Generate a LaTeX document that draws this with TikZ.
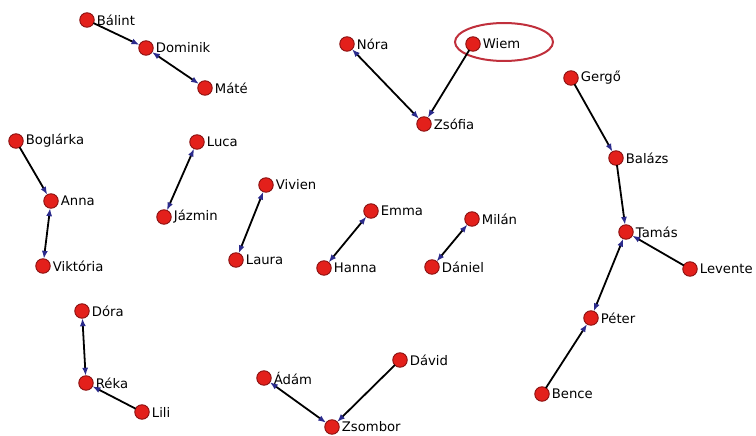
\documentclass[tikz,border=0pt]{standalone}
\usepackage{fontspec}
\setmainfont{DejaVu Sans}
\usetikzlibrary{arrows.meta,shapes.geometric}
\definecolor{nodered}{HTML}{E3201B}
\definecolor{noderim}{HTML}{8A1010}
\definecolor{tipblue}{HTML}{2B2B8C}
\definecolor{ringred}{HTML}{C0303C}
\tikzset{
  person/.style={circle,fill=nodered,draw=noderim,line width=0.9pt,minimum size=14.5pt,inner sep=0pt,
    label={[font=\fontsize{13.2}{15}\selectfont,anchor=west,inner sep=0pt,xshift=2pt]east:#1}},
  tip/.style={-{Latex[color=tipblue,length=8pt,width=6pt]}},
  both/.style={{Latex[color=tipblue,length=8pt,width=6pt]}-{Latex[color=tipblue,length=8pt,width=6pt]}},
  link/.style={line width=1.8pt,black,shorten >=-0.5pt,shorten <=-0.5pt}
}
\begin{document}
\begin{tikzpicture}[x=1pt,y=-1pt]
\useasboundingbox (0,0) rectangle (756,436);
\node[person=Bálint] (balint) at (87,20) {};
\node[person=Dominik] (dominik) at (146,48) {};
\node[person=Máté] (mate) at (205,88) {};
\node[person=Nóra] (nora) at (347,44) {};
\node[person=Wiem] (wiem) at (473,44) {};
\node[person=Zsófia] (zsofia) at (424,124) {};
\node[person=Gergő] (gergo) at (571,78) {};
\node[person=Balázs] (balazs) at (616,158) {};
\node[person=Tamás] (tamas) at (626,232) {};
\node[person=Levente] (levente) at (690,269) {};
\node[person=Péter] (peter) at (591,318) {};
\node[person=Bence] (bence) at (542,394) {};
\node[person=Boglárka] (boglarka) at (16,141) {};
\node[person=Anna] (anna) at (51,201) {};
\node[person=Viktória] (viktoria) at (43,266) {};
\node[person=Luca] (luca) at (197,142) {};
\node[person=Jázmin] (jazmin) at (164,217) {};
\node[person=Vivien] (vivien) at (266,185) {};
\node[person=Laura] (laura) at (236,260) {};
\node[person=Emma] (emma) at (371,211) {};
\node[person=Hanna] (hanna) at (324,268) {};
\node[person=Milán] (milan) at (472,219) {};
\node[person=Dániel] (daniel) at (432,267) {};
\node[person=Dóra] (dora) at (82,311) {};
\node[person=Réka] (reka) at (86,383) {};
\node[person=Lili] (lili) at (142,412) {};
\node[person=Ádám] (adam) at (264,378) {};
\node[person=Zsombor] (zsombor) at (332,427) {};
\node[person=Dávid] (david) at (400,360) {};
\node[draw=ringred,line width=2pt,ellipse,minimum width=98pt,minimum height=38pt] (ring) at (504,42) {};
\draw[link,tip] (balint) -- (dominik);
\draw[link,both] (dominik) -- (mate);
\draw[link,both] (nora) -- (zsofia);
\draw[link,tip] (wiem) -- (zsofia);
\draw[link,tip] (gergo) -- (balazs);
\draw[link,tip] (balazs) -- (tamas);
\draw[link,tip] (levente) -- (tamas);
\draw[link,both] (tamas) -- (peter);
\draw[link,tip] (bence) -- (peter);
\draw[link,tip] (boglarka) -- (anna);
\draw[link,both] (anna) -- (viktoria);
\draw[link,both] (luca) -- (jazmin);
\draw[link,both] (vivien) -- (laura);
\draw[link,both] (emma) -- (hanna);
\draw[link,both] (milan) -- (daniel);
\draw[link,both] (dora) -- (reka);
\draw[link,tip] (lili) -- (reka);
\draw[link,both] (adam) -- (zsombor);
\draw[link,tip] (david) -- (zsombor);
\end{tikzpicture}
\end{document}
